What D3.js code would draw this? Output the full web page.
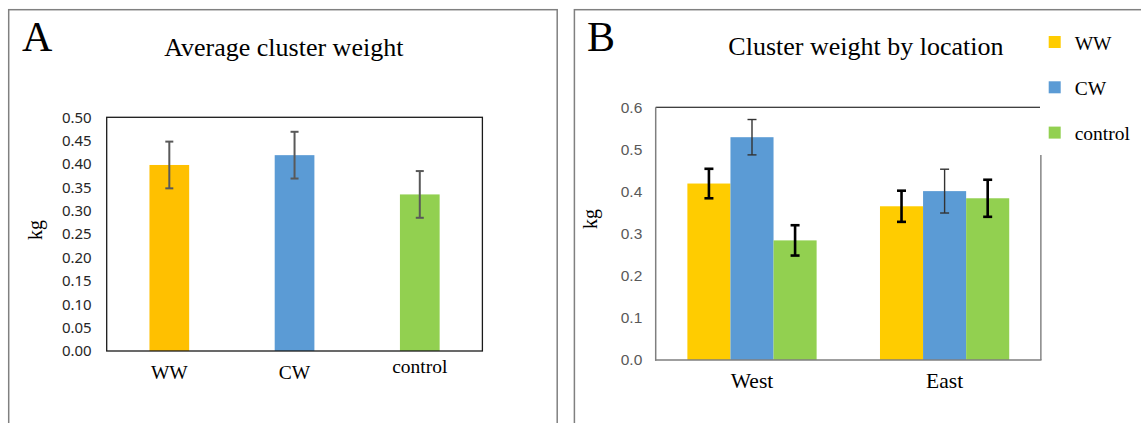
<!DOCTYPE html>
<html>
<head>
<meta charset="utf-8">
<script src="https://cdn.jsdelivr.net/npm/d3@7"></script>
<style>
  body { margin: 0; background: #fff; }
  svg { display: block; }
</style>
</head>
<body>
<script>
// panel A data
var catsA = ["WW", "CW", "control"];
var meansA = [0.398, 0.419, 0.335];
var errA = [0.05, 0.05, 0.05];
var ticksA = [0, 0.05, 0.10, 0.15, 0.20, 0.25, 0.30, 0.35, 0.40, 0.45, 0.50];

// panel B data
var groupsB = ["West", "East"];
var seriesB = ["WW", "CW", "control"];
var westB = [0.419, 0.529, 0.284];
var eastB = [0.365, 0.401, 0.384];
var westErrB = [0.035, 0.042, 0.036];
var eastErrB = [0.037, 0.052, 0.044];
var ticksB = [0, 0.1, 0.2, 0.3, 0.4, 0.5, 0.6];

var colorsA = {WW: "#FFC000", CW: "#5B9BD5", control: "#92D050"};
var colorsB = {WW: "#FFCC00", CW: "#5B9BD5", control: "#92D050"};
var errStyleB = {WW: [2.6, "#000"], CW: [1.4, "#333"], control: [2.6, "#000"]};

var serif = "Liberation Serif, Times New Roman, serif";

var svg = d3.select("body").append("svg").attr("width", 1141).attr("height", 423);

// outer frames
svg.append("rect").attr("x", 8.7).attr("y", 9.7).attr("width", 548.5).attr("height", 440)
  .attr("fill", "none").attr("stroke", "#808080").attr("stroke-width", 1.5);
svg.append("rect").attr("x", 574.4).attr("y", 9.7).attr("width", 600).attr("height", 440)
  .attr("fill", "none").attr("stroke", "#808080").attr("stroke-width", 1.5);

// ---------- panel A ----------
var a = svg.append("g");
var xA = d3.scaleBand().domain(catsA).range([106.7, 482.4]);
var yA = d3.scaleLinear().domain([0, 0.5]).range([351, 117.3]);
var bwA = xA.bandwidth() * 0.317;

a.append("text").attr("x", 22).attr("y", 51).style("font-family", serif)
  .attr("font-size", 42).text("A");
a.append("text").attr("x", 283.8).attr("y", 56).attr("text-anchor", "middle")
  .style("font-family", serif).attr("font-size", 26).text("Average cluster weight");
a.append("text").attr("transform", "translate(35.5,230) rotate(-90)").attr("dy", "0.3em")
  .attr("text-anchor", "middle").style("font-family", serif).attr("font-size", 20).text("kg");

var yAxA = a.append("g").attr("transform", "translate(106.7,0)")
  .call(d3.axisLeft(yA).tickValues(ticksA).tickSize(0).tickPadding(15).tickFormat(d3.format(".2f")));
yAxA.select(".domain").remove();
yAxA.selectAll("text").style("font-family", "Noto Sans, sans-serif").attr("font-size", 15).attr("fill", "#262626");

var xAxA = a.append("g").attr("transform", "translate(0,351)")
  .call(d3.axisBottom(xA).tickSize(0).tickPadding(14.5));
xAxA.select(".domain").remove();
xAxA.selectAll("text").style("font-family", serif).attr("font-size", 19.5).attr("fill", "#000")
  .filter(function(d) { return d === "control"; }).attr("dy", "0.41em");

a.selectAll(".barA").data(catsA).enter().append("rect").attr("class", "barA")
  .attr("x", function(d) { return xA(d) + xA.bandwidth() / 2 - bwA / 2; })
  .attr("width", bwA)
  .attr("y", function(d, i) { return yA(meansA[i]); })
  .attr("height", function(d, i) { return yA(0) - yA(meansA[i]); })
  .attr("fill", function(d) { return colorsA[d]; });

a.append("rect").attr("x", 106.7).attr("y", 117.3).attr("width", 482.4 - 106.7).attr("height", 351 - 117.3)
  .attr("fill", "none").attr("stroke", "#1a1a1a").attr("stroke-width", 1.3);

var errGA = a.selectAll(".errA").data(catsA).enter().append("g").attr("class", "errA")
  .attr("stroke", "#595959").attr("stroke-width", 2);
errGA.each(function(d, i) {
  var g = d3.select(this);
  var cx = xA(d) + xA.bandwidth() / 2;
  var hi = yA(meansA[i] + errA[i]), lo = yA(meansA[i] - errA[i]);
  g.append("line").attr("x1", cx).attr("x2", cx).attr("y1", hi).attr("y2", lo);
  g.append("line").attr("x1", cx - 4).attr("x2", cx + 4).attr("y1", hi).attr("y2", hi);
  g.append("line").attr("x1", cx - 4).attr("x2", cx + 4).attr("y1", lo).attr("y2", lo);
});

// ---------- panel B ----------
var b = svg.append("g");
var x0 = d3.scaleBand().domain(groupsB).range([655.7, 1040.9]).paddingInner(0.329).paddingOuter(0.1645);
var x1 = d3.scaleBand().domain(seriesB).range([0, x0.bandwidth()]);
var yB = d3.scaleLinear().domain([0, 0.6]).range([360, 107.3]);
var valsB = {West: westB, East: eastB};
var errsB = {West: westErrB, East: eastErrB};

b.append("text").attr("x", 587).attr("y", 51).style("font-family", serif)
  .attr("font-size", 42).text("B");
b.append("text").attr("x", 865.9).attr("y", 55).attr("text-anchor", "middle")
  .style("font-family", serif).attr("font-size", 26).text("Cluster weight by location");
b.append("text").attr("transform", "translate(591,219) rotate(-90)").attr("dy", "0.3em")
  .attr("text-anchor", "middle").style("font-family", serif).attr("font-size", 20).text("kg");

var yAxB = b.append("g").attr("transform", "translate(655.7,0)")
  .call(d3.axisLeft(yB).tickValues(ticksB).tickSize(0).tickPadding(13.4).tickFormat(d3.format(".1f")));
yAxB.select(".domain").remove();
yAxB.selectAll("text").style("font-family", "Liberation Sans, Arial, sans-serif").attr("font-size", 15.5).attr("fill", "#595959");

var xAxB = b.append("g").attr("transform", "translate(0,360)")
  .call(d3.axisBottom(x0).tickSize(0).tickPadding(12.7));
xAxB.select(".domain").remove();
xAxB.selectAll("text").style("font-family", serif).attr("font-size", 21.5).attr("fill", "#000");

var grpB = b.selectAll(".grpB").data(groupsB).enter().append("g").attr("class", "grpB")
  .attr("transform", function(d) { return "translate(" + x0(d) + ",0)"; });
grpB.selectAll("rect").data(function(g) { return seriesB.map(function(s, i) { return {s: s, v: valsB[g][i]}; }); })
  .enter().append("rect")
  .attr("x", function(d) { return x1(d.s); })
  .attr("width", x1.bandwidth())
  .attr("y", function(d) { return yB(d.v); })
  .attr("height", function(d) { return yB(0) - yB(d.v); })
  .attr("fill", function(d) { return colorsB[d.s]; });

// plot frame B
b.append("line").attr("x1", 655.7).attr("x2", 1040.9).attr("y1", 107.3).attr("y2", 107.3)
  .attr("stroke", "#000").attr("stroke-width", 1.1);
b.append("line").attr("x1", 1040.9).attr("x2", 1040.9).attr("y1", 107.3).attr("y2", 360)
  .attr("stroke", "#595959").attr("stroke-width", 1.1);
b.append("line").attr("x1", 655.7).attr("x2", 655.7).attr("y1", 107.3).attr("y2", 360.7)
  .attr("stroke", "#7f7f7f").attr("stroke-width", 1.5);
b.append("line").attr("x1", 655).attr("x2", 1041.5).attr("y1", 360).attr("y2", 360)
  .attr("stroke", "#7f7f7f").attr("stroke-width", 1.5);

grpB.each(function(g) {
  var gg = d3.select(this);
  seriesB.forEach(function(s, i) {
    var cx = x1(s) + x1.bandwidth() / 2;
    var v = valsB[g][i], e = errsB[g][i];
    var hi = yB(v + e), lo = yB(v - e);
    var st = errStyleB[s];
    var eg = gg.append("g").attr("stroke", st[1]).attr("stroke-width", st[0]);
    eg.append("line").attr("x1", cx).attr("x2", cx).attr("y1", hi).attr("y2", lo);
    eg.append("line").attr("x1", cx - 4.5).attr("x2", cx + 4.5).attr("y1", hi).attr("y2", hi);
    eg.append("line").attr("x1", cx - 4.5).attr("x2", cx + 4.5).attr("y1", lo).attr("y2", lo);
  });
});

// legend (white box covers the plot's top-right border)
var leg = b.append("g");
leg.append("rect").attr("x", 1040).attr("y", 20).attr("width", 101).attr("height", 135).attr("fill", "#fff");
var legRow = leg.selectAll(".lr").data(seriesB).enter().append("g").attr("class", "lr")
  .attr("transform", function(d, i) { return "translate(1048.7," + (42 + i * 45.3) + ")"; });
legRow.append("rect").attr("x", 0).attr("y", -6).attr("width", 12).attr("height", 12)
  .attr("fill", function(d) { return colorsB[d]; });
legRow.append("text").attr("x", 26).attr("y", 0).attr("dy", "0.4em")
  .style("font-family", serif).attr("font-size", 19.5).text(function(d) { return d; });
</script>
</body>
</html>
